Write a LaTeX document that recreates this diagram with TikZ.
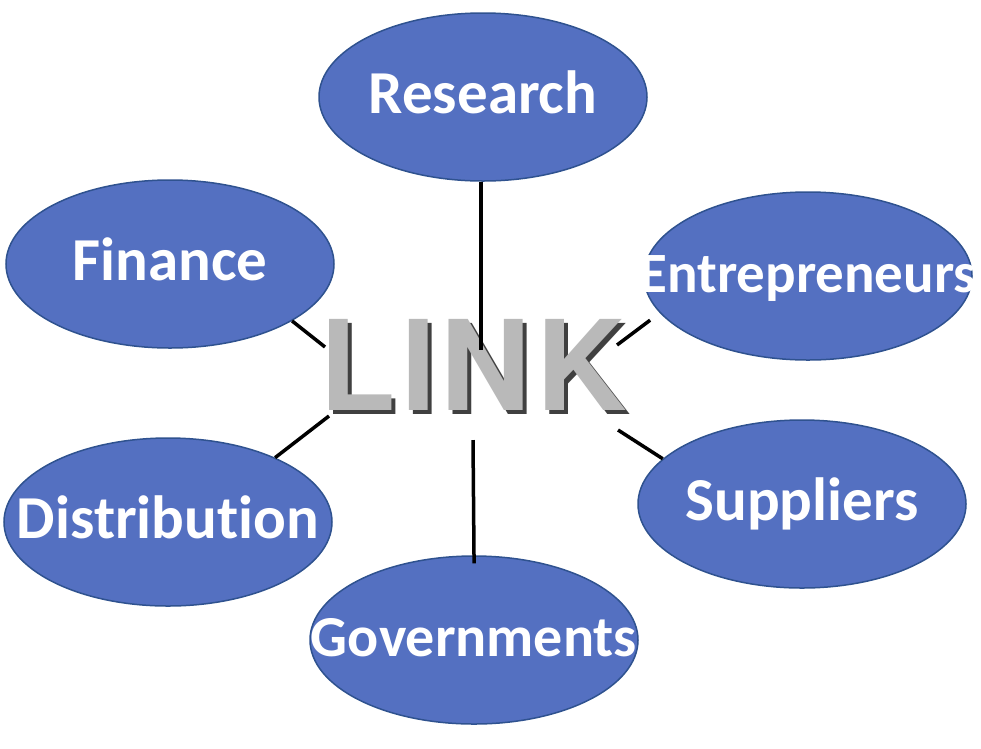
\documentclass[tikz,border=0pt]{standalone}
\usepackage{fontspec}
\setmainfont{Carlito}[Ligatures=NoCommon]
\newfontfamily\linkfont[LetterSpace=4]{TeX Gyre Heros}
\definecolor{topicblue}{RGB}{84,112,193}
\definecolor{topicedge}{RGB}{47,82,143}
\definecolor{linkshade}{RGB}{64,64,64}
\definecolor{linkface}{RGB}{185,185,185}
\usetikzlibrary{shapes.geometric}
\begin{document}
\begin{tikzpicture}[x=1pt, y=-1pt,
  topic/.style={ellipse, draw=topicedge, line width=1.5pt, fill=topicblue,
    minimum width=328pt, minimum height=168pt, inner sep=0pt},
  topicname/.style={text=white, inner sep=0pt, text height=32pt, text depth=0pt,
    font=\fontsize{#1}{#1}\selectfont\bfseries},
  topicname/.default=61,
  linkword/.style={inner sep=0pt, font=\fontsize{125}{125}\linkfont\bfseries},
  tie/.style={line width=3.5pt}]
  \useasboundingbox (0,0) rectangle (981,748);
  % topics
  \node[topic, label={[topicname]center:Research}] (research) at (483,97) {};
  \node[topic, label={[topicname]center:Finance}] (finance) at (170,264) {};
  \node[topic, label={[topicname=57]center:Entrepreneurs}] (entre) at (808,276) {};
  \node[topic, label={[topicname]center:Suppliers}] (suppliers) at (802,504) {};
  \node[topic, label={[topicname]center:Distribution}] (distrib) at (168,522) {};
  \node[topic, label={[topicname=58]center:Governments}] (govts) at (474,640) {};
  % the word in the middle
  \node[linkword, text=linkshade] (linkshadow) at (477,369) {LINK};
  \node[linkword, text=linkface] (link) at (473,365) {LINK};
  % loose ends near the word
  \coordinate (lr) at (481,350);
  \coordinate (lf) at (325,347);
  \coordinate (le) at (617,345);
  \coordinate (ls) at (618,430);
  \coordinate (ld) at (329,416);
  \coordinate (lg) at (473,440);
  \draw[tie] (lr |- research.south) -- (lr);
  \draw[tie] (finance.-25) -- (lf);
  \draw[tie, shorten <=12pt] (entre.-166) -- (le);
  \draw[tie] (suppliers.162) -- (ls);
  \draw[tie] (distrib.31) -- (ld);
  \draw[tie, shorten <=-8pt] (govts.north) -- (lg);
\end{tikzpicture}
\end{document}
